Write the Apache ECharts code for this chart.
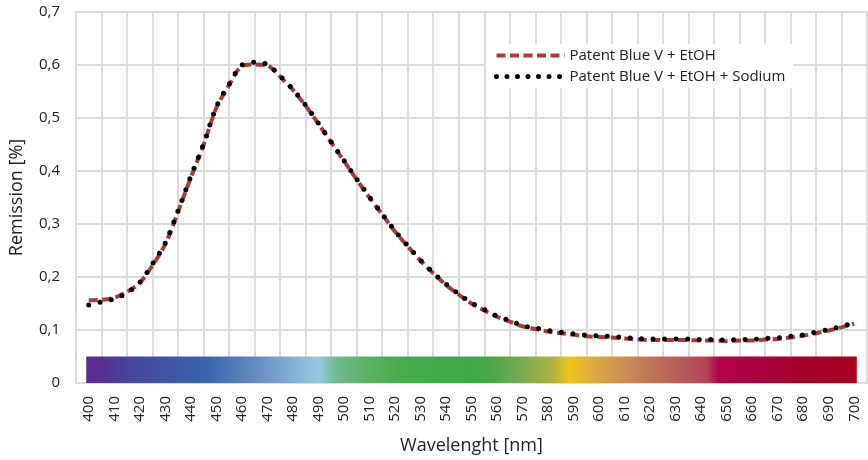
<!DOCTYPE html>
<html>
<head>
<meta charset="utf-8">
<script src="https://cdn.jsdelivr.net/npm/echarts@6/dist/echarts.min.js"></script>
<style>
  html, body { margin: 0; padding: 0; background: #fff; }
  #chart { width: 868px; height: 460px; }
</style>
</head>
<body>
<div id="chart"></div>
<script>
// x axis labels (nm)
var categories = [];
for (var w = 400; w <= 700; w += 10) categories.push(String(w));

// sampled wavelengths, every 5 nm
var wavelengths = [];
for (var w2 = 400; w2 <= 700; w2 += 5) wavelengths.push(w2);

// Patent Blue V + EtOH (dashed)
var etohValues = [
  0.156, 0.157, 0.161, 0.172, 0.189, 0.222, 0.262, 0.323, 0.388, 0.449,
  0.519, 0.562, 0.598, 0.601, 0.599, 0.578, 0.553, 0.523, 0.489, 0.454,
  0.419, 0.384, 0.350, 0.318, 0.286, 0.258, 0.231, 0.207, 0.185, 0.167,
  0.150, 0.137, 0.125, 0.116, 0.107, 0.102, 0.097, 0.094, 0.091, 0.088,
  0.087, 0.086, 0.084, 0.082, 0.081, 0.081, 0.081, 0.081, 0.080, 0.080,
  0.079, 0.080, 0.080, 0.082, 0.083, 0.086, 0.089, 0.094, 0.099, 0.105,
  0.112
];

// Patent Blue V + EtOH + Sodium (dotted)
var sodiumValues = [
  0.147, 0.153, 0.159, 0.170, 0.190, 0.225, 0.264, 0.325, 0.390, 0.451,
  0.521, 0.564, 0.600, 0.605, 0.601, 0.579, 0.554, 0.524, 0.490, 0.455,
  0.420, 0.385, 0.351, 0.319, 0.287, 0.259, 0.232, 0.208, 0.187, 0.168,
  0.151, 0.139, 0.126, 0.118, 0.108, 0.104, 0.099, 0.096, 0.093, 0.090,
  0.089, 0.088, 0.086, 0.084, 0.083, 0.083, 0.083, 0.083, 0.082, 0.082,
  0.081, 0.082, 0.082, 0.084, 0.085, 0.088, 0.091, 0.096, 0.101, 0.107,
  0.113
];

// visible spectrum strip under the curves
var spectrumRange = [399, 701];
var spectrumTop = 0.05;
var spectrumStops = [
  [399, '#5a2d8f'], [405, '#553090'], [417, '#45479c'], [430, '#3f55a3'],
  [446, '#3a63ad'], [460, '#5a80bb'], [475, '#7ba3cd'], [490, '#95c9e0'],
  [497, '#70b98e'], [507, '#5fb46a'], [522, '#47ad4d'], [550, '#3daa48'],
  [558, '#4aa84a'], [570, '#7aab50'], [582, '#b0b23f'], [588.5, '#f0c419'],
  [598, '#dcaa40'], [610, '#cc8d55'], [621, '#c0735a'], [633, '#b45a58'],
  [642, '#b34556'], [647, '#b3004a'], [665, '#a8003a'], [688, '#a60028'],
  [701, '#a9001e']
];

function pairs(vals) {
  return wavelengths.map(function (w, i) { return [w, vals[i]]; });
}

var span = spectrumRange[1] - spectrumRange[0];
var gradient = new echarts.graphic.LinearGradient(0, 0, 1, 0,
  spectrumStops.map(function (s) {
    return { offset: (s[0] - spectrumRange[0]) / span, color: s[1] };
  }));

var font = 'Open Sans';
var gridColor = '#dcdcdc';
var dashStyle = { color: '#a53c3c', width: 4, type: [9, 4.5] };
var dotStyle = { color: '#000', width: 5, type: [0, 11.5], cap: 'round' };

var chart = echarts.init(document.getElementById('chart'));
chart.setOption({
  animation: false,
  textStyle: { fontFamily: font },
  grid: { left: 73, right: 1, top: 12, bottom: 75 },
  legend: {
    orient: 'vertical',
    left: 486,
    top: 44,
    padding: [4, 8, 4, 8],
    backgroundColor: '#fff',
    itemWidth: 68,
    itemHeight: 14,
    itemGap: 6,
    textStyle: { fontFamily: font, fontSize: 15, color: '#222' },
    data: [
      {
        name: 'Patent Blue V + EtOH',
        itemStyle: { opacity: 0 },
        lineStyle: { color: '#a53c3c', width: 4, type: [9, 4.5] }
      },
      {
        name: 'Patent Blue V + EtOH + Sodium',
        itemStyle: { opacity: 0 },
        lineStyle: { color: '#000', width: 5, type: [0, 10.5], cap: 'round' }
      }
    ]
  },
  xAxis: [
    {
      type: 'category',
      data: categories,
      boundaryGap: true,
      name: 'Wavelenght [nm]',
      nameLocation: 'middle',
      nameGap: 54,
      nameTextStyle: { fontFamily: font, fontSize: 18, color: '#222' },
      axisLine: { lineStyle: { color: gridColor, width: 2 } },
      axisTick: { show: false },
      axisLabel: { rotate: 90, margin: 13, fontSize: 15, color: '#222', fontFamily: font },
      splitLine: { show: true, lineStyle: { color: gridColor, width: 2 } }
    },
    {
      type: 'value',
      min: 395,
      max: 705,
      show: false,
      splitLine: { show: false }
    }
  ],
  yAxis: {
    type: 'value',
    min: 0,
    max: 0.7,
    interval: 0.1,
    name: 'Remission [%]',
    nameLocation: 'middle',
    nameGap: 50,
    nameTextStyle: { fontFamily: font, fontSize: 18, color: '#222' },
    axisLine: { show: true, lineStyle: { color: gridColor, width: 2 } },
    axisTick: { show: false },
    axisLabel: {
      margin: 16, fontSize: 15, color: '#222', fontFamily: font,
      formatter: function (v) { return v === 0 ? '0' : v.toFixed(1).replace('.', ','); }
    },
    splitLine: { lineStyle: { color: gridColor, width: 2 } }
  },
  series: [
    {
      name: 'spectrum',
      type: 'line',
      xAxisIndex: 1,
      data: [],
      silent: true,
      markArea: {
        silent: true,
        itemStyle: { color: gradient, opacity: 1 },
        data: [[
          { coord: [spectrumRange[0], 0] },
          { coord: [spectrumRange[1], spectrumTop] }
        ]]
      }
    },
    {
      name: 'Patent Blue V + EtOH',
      type: 'line',
      xAxisIndex: 1,
      data: pairs(etohValues),
      smooth: 0.3,
      symbol: 'none',
      lineStyle: dashStyle,
      itemStyle: { color: '#a53c3c' }
    },
    {
      name: 'Patent Blue V + EtOH + Sodium',
      type: 'line',
      xAxisIndex: 1,
      data: pairs(sodiumValues),
      smooth: 0.3,
      symbol: 'none',
      lineStyle: dotStyle,
      itemStyle: { color: '#000' }
    }
  ]
});
</script>
</body>
</html>
